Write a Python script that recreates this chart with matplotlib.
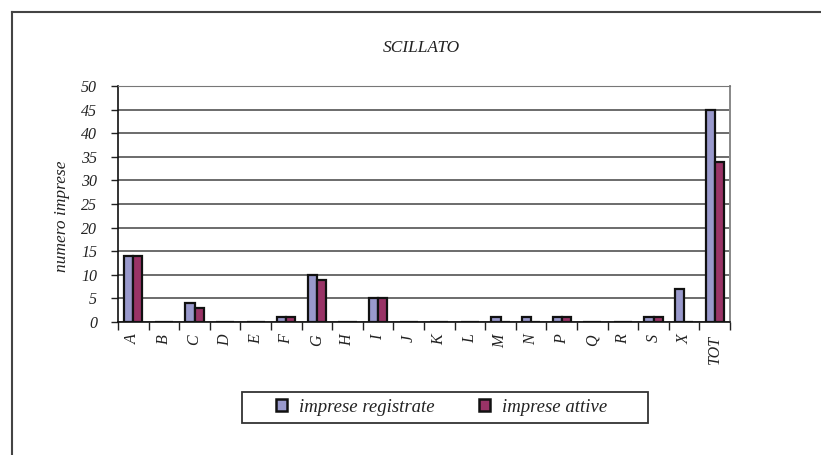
import numpy as np
import matplotlib
matplotlib.use('Agg')
import matplotlib.pyplot as plt
from matplotlib.lines import Line2D
from matplotlib.patches import Patch, Rectangle

# data
categories = ['A', 'B', 'C', 'D', 'E', 'F', 'G', 'H', 'I', 'J', 'K', 'L',
              'M', 'N', 'P', 'Q', 'R', 'S', 'X', 'TOT']
registrate = [14, 0, 4, 0, 0, 1, 10, 0, 5, 0, 0, 0, 1, 1, 1, 0, 0, 1, 7, 45]
attive = [14, 0, 3, 0, 0, 1, 9, 0, 5, 0, 0, 0, 0, 0, 1, 0, 0, 1, 0, 34]
yticks = np.arange(0, 51, 5)

plt.rcParams['font.family'] = ['Liberation Serif', 'DejaVu Serif']
plt.rcParams['font.style'] = 'italic'

col_reg = '#9999CC'
col_att = '#993366'

fig = plt.figure(figsize=(8.21, 4.55), dpi=100)
ax = fig.add_axes([118/821, 1 - 322/455, 612/821, 236/455])

x = np.arange(len(categories))
w = 0.3
ax.bar(x - w/2, registrate, w, color=col_reg, edgecolor='#111111', linewidth=1.6, zorder=3)
ax.bar(x + w/2, attive, w, color=col_att, edgecolor='#111111', linewidth=1.6, zorder=3)

ax.set_xlim(-0.5, len(categories) - 0.5)
ax.set_ylim(0, 50)
ax.set_yticks(yticks)
ax.set_yticklabels([str(v) for v in yticks], fontsize=11.5, style='italic', color='#222222')
ax.yaxis.grid(True, color='#444444', linewidth=1.1, zorder=0)
ax.tick_params(axis='y', length=5, width=1, color='#222222', pad=10)

# ticks between the categories, labels in the middle
ax.set_xticks(np.arange(-0.5, len(categories)), minor=False)
ax.set_xticklabels([])
ax.set_xticks(x, minor=True)
ax.set_xticklabels(categories, minor=True, rotation=90, fontsize=11.5, style='italic',
                   color='#222222', va='top')
ax.tick_params(axis='x', which='major', length=6, width=1, color='#222222', direction='out')
ax.tick_params(axis='x', which='minor', length=0, pad=9)

for side in ['left', 'bottom']:
    ax.spines[side].set_color('#111111')
    ax.spines[side].set_linewidth(1.2)
ax.spines['top'].set_color('#777777')
ax.spines['right'].set_color('#888888')
ax.spines['right'].set_linewidth(1.4)

fig.text(421/821, 1 - 48/455, 'SCILLATO', ha='center', va='center', fontsize=12.5, style='italic',
         color='#222222')
fig.text(62/821, 1 - 216/455, 'numero imprese', ha='center', va='center', rotation=90,
         fontsize=12.5, style='italic', color='#222222')

handles = [Patch(facecolor=col_reg, edgecolor='#111111', linewidth=1.8),
           Patch(facecolor=col_att, edgecolor='#111111', linewidth=1.8)]
leg = fig.legend(handles, ['imprese registrate', 'imprese attive'], ncol=2,
                 loc='center', bbox_to_anchor=(441.5/821, 1 - 407/455),
                 prop={'family': 'Liberation Serif', 'style': 'italic', 'size': 13.5},
                 frameon=False, handlelength=0.6, handleheight=0.6,
                 handletextpad=0.6, columnspacing=2.4, borderpad=0, borderaxespad=0)
for t in leg.get_texts():
    t.set_color('#222222')
# legend frame as in the reference
fig.add_artist(Rectangle((242/821, 1 - 423/455), 406/821, 31/455, transform=fig.transFigure,
                         fill=False, edgecolor='#333333', linewidth=1.3))

# outer chart frame (left and top edges visible)
fig.add_artist(Line2D([12/821, 12/821], [0, 1 - 12/455], color='#444444', linewidth=1.5))
fig.add_artist(Line2D([12/821, 1], [1 - 12/455, 1 - 12/455], color='#444444', linewidth=1.5))

fig.savefig('out.png', dpi=100)
